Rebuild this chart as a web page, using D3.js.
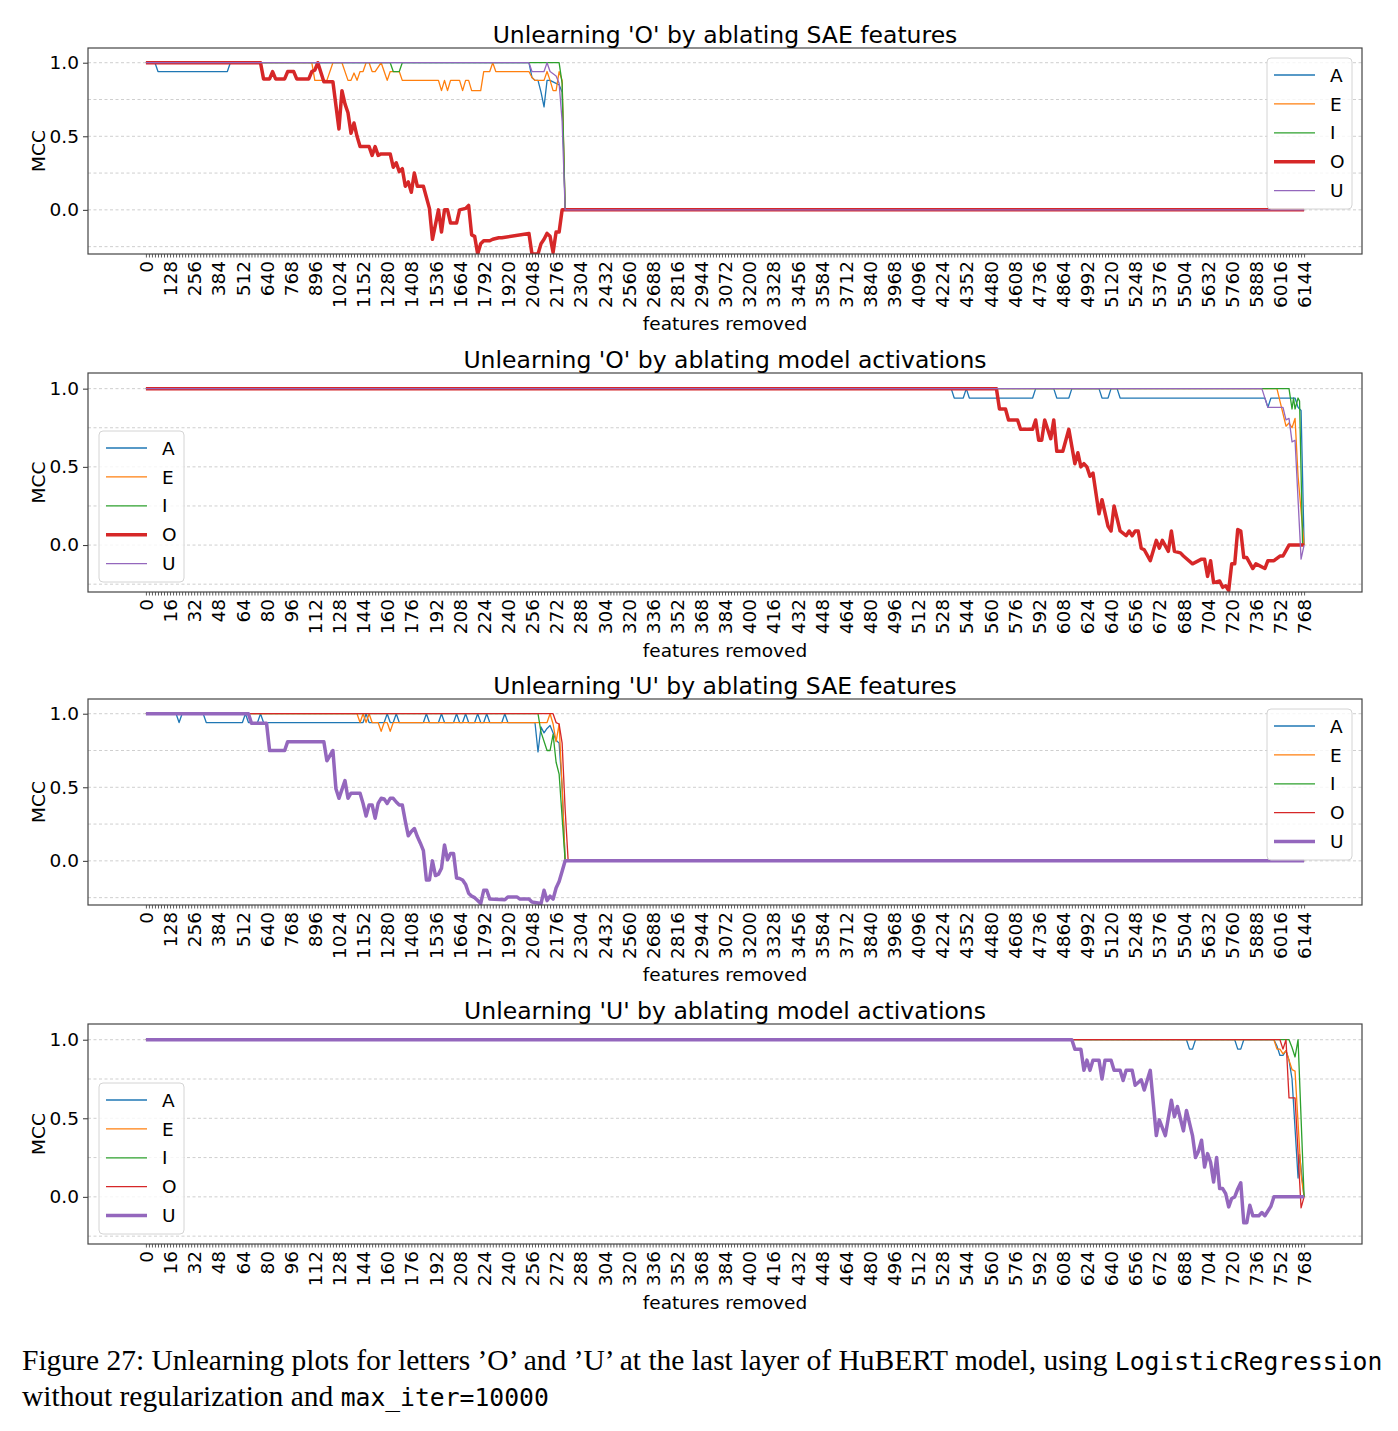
<!DOCTYPE html>
<html>
<head>
<meta charset="utf-8">
<script src="https://cdn.jsdelivr.net/npm/d3@7"></script>
<style>
  body { margin: 0; background: #fff; }
  svg text { font-family: "DejaVu Sans", sans-serif; fill: #000; }
  .caption { font-family: "Liberation Serif", "Times New Roman", serif; font-size: 29.5px; }
  .mono { font-family: "DejaVu Sans Mono", monospace; font-size: 24.7px; }
</style>
</head>
<body>
<svg id="fig" width="1398" height="1431"></svg>
<script>
var letters = ["A", "E", "I", "O", "U"];
var colors = ["#1f77b4", "#ff7f0e", "#2ca02c", "#d62728", "#9467bd"];

var saeTicks = d3.range(0, 6144 + 1, 16);     // one tick per ablation step
var saeTickLabels = d3.range(0, 6144 + 1, 128);
var actTicks = d3.range(0, 768 + 1, 2);
var actTickLabels = d3.range(0, 768 + 1, 16);
var yTickLabels = [0, 0.5, 1.0];
var yGrid = [-0.25, 0, 0.25, 0.5, 0.75, 1.0];

// [features removed, MCC]
// Unlearning 'O' by ablating SAE features
var oSaeA = [[0,1],[48,1],[64,0.94],[432,0.94],[448,1],[2032,1],[2048,0.9],[2064,0.88],[2080,0.88],[2096,0.8],[2112,0.70],[2128,0.88],[2144,0.88],[2160,0.87],[2176,0.86],[2192,0.85],[2208,0.8],[2224,0],[6144,0]];
var oSaeE = [[0,1],[880,1],[896,0.88],[960,0.88],[992,1],[1040,1],[1072,0.88],[1088,0.88],[1104,0.93],[1120,0.88],[1136,0.94],[1152,0.94],[1168,1],[1184,1],[1200,0.94],[1216,0.94],[1248,1],[1264,0.94],[1280,0.88],[1296,0.94],[1344,0.94],[1360,0.88],[1552,0.88],[1568,0.81],[1584,0.88],[1600,0.81],[1616,0.88],[1664,0.88],[1680,0.81],[1696,0.88],[1712,0.88],[1728,0.81],[1776,0.81],[1792,0.94],[1824,0.94],[1840,1],[1856,0.94],[2032,0.94],[2048,0.9],[2064,0.88],[2112,0.88],[2128,0.94],[2144,0.88],[2160,0.81],[2176,0.81],[2192,0.94],[2208,0.88],[2224,0],[6144,0]];
var oSaeI = [[0,1],[1296,1],[1312,0.94],[1344,0.94],[1360,1],[2192,1],[2208,0.86],[2224,0],[6144,0]];
var oSaeO = [[0,1],[608,1],[624,0.89],[656,0.89],[672,0.94],[688,0.89],[736,0.89],[752,0.94],[784,0.94],[800,0.89],[864,0.89],[880,0.94],[896,0.95],[912,1],[944,0.87],[992,0.87],[1024,0.55],[1040,0.81],[1056,0.72],[1072,0.66],[1088,0.52],[1104,0.59],[1120,0.5],[1136,0.43],[1184,0.43],[1200,0.37],[1216,0.43],[1232,0.37],[1248,0.38],[1296,0.38],[1312,0.29],[1328,0.32],[1344,0.26],[1360,0.28],[1376,0.16],[1392,0.19],[1408,0.12],[1424,0.25],[1440,0.16],[1472,0.16],[1504,0.01],[1520,-0.2],[1552,0],[1568,-0.15],[1584,0],[1600,0],[1616,-0.09],[1648,-0.09],[1664,0],[1696,0.01],[1712,0.03],[1728,-0.17],[1744,-0.18],[1760,-0.3],[1776,-0.23],[1792,-0.21],[1824,-0.21],[1840,-0.2],[1872,-0.19],[1888,-0.19],[2032,-0.16],[2048,-0.3],[2080,-0.3],[2096,-0.23],[2112,-0.2],[2128,-0.16],[2144,-0.18],[2160,-0.29],[2176,-0.15],[2192,-0.15],[2208,0],[6144,0]];
var oSaeU = [[0,1],[2032,1],[2048,0.94],[2112,0.94],[2128,1],[2144,0.94],[2176,0.91],[2192,0.86],[2208,0.6],[2224,0],[6144,0]];

// Unlearning 'O' by ablating model activations
var oActA = [[0,1],[534,1],[536,0.94],[542,0.94],[544,1],[546,0.94],[588,0.94],[590,1],[602,1],[604,0.94],[612,0.94],[614,1],[632,1],[634,0.94],[638,0.94],[640,1],[644,1],[646,0.94],[742,0.94],[744,0.88],[746,0.94],[762,0.94],[764,0.88],[766,0.86],[768,0]];
var oActE = [[0,1],[750,1],[756,0.76],[758,0.78],[760,0.75],[762,0.81],[764,0.44],[768,0]];
var oActI = [[0,1],[758,1],[760,0.87],[761,0.94],[762,0.87],[764,0.94],[765,0.92],[767,0],[768,0]];
var oActO = [[0,1],[564,1],[566,0.87],[570,0.87],[572,0.8],[578,0.8],[580,0.74],[588,0.74],[590,0.8],[592,0.67],[594,0.67],[596,0.8],[600,0.68],[602,0.8],[604,0.6],[608,0.6],[612,0.74],[616,0.52],[618,0.59],[620,0.5],[622,0.52],[624,0.5],[626,0.44],[628,0.46],[632,0.2],[634,0.29],[638,0.12],[640,0.09],[642,0.25],[646,0.09],[650,0.06],[652,0.09],[654,0.06],[656,0.09],[658,0.09],[660,-0.02],[662,-0.03],[666,-0.1],[670,0.03],[672,-0.02],[674,0.03],[678,-0.04],[680,0.09],[682,-0.04],[686,-0.05],[688,-0.07],[694,-0.12],[700,-0.09],[702,-0.09],[704,-0.2],[706,-0.1],[708,-0.24],[712,-0.23],[714,-0.27],[716,-0.26],[718,-0.29],[720,-0.12],[722,-0.12],[724,0.1],[726,0.09],[728,-0.08],[730,-0.08],[734,-0.15],[736,-0.12],[738,-0.13],[742,-0.15],[744,-0.1],[748,-0.1],[752,-0.07],[754,-0.07],[758,0],[768,0]];
var oActU = [[0,1],[740,1],[744,0.88],[754,0.88],[756,0.8],[758,0.81],[760,0.66],[762,0.67],[766,-0.09],[768,0]];

// Unlearning 'U' by ablating SAE features
var uSaeA = [[0,1],[160,1],[176,0.94],[192,1],[304,1],[320,0.94],[512,0.94],[528,1],[544,0.94],[592,0.94],[608,1],[624,0.94],[1152,0.94],[1168,1],[1184,0.94],[1264,0.94],[1280,1],[1296,0.94],[1312,0.94],[1328,1],[1344,0.94],[1472,0.94],[1488,1],[1504,0.94],[1552,0.94],[1568,1],[1584,0.94],[1632,0.94],[1648,1],[1664,0.94],[1680,0.94],[1696,1],[1712,0.94],[1744,0.94],[1760,1],[1776,0.94],[1792,0.94],[1808,1],[1824,0.94],[1888,0.94],[1904,1],[1920,0.94],[2064,0.94],[2080,0.74],[2096,0.91],[2112,0.87],[2128,0.9],[2144,0.92],[2176,0.82],[2192,0.8],[2208,0.5],[2224,0],[6144,0]];
var uSaeE = [[0,1],[1120,1],[1136,0.94],[1152,1],[1168,0.94],[1184,1],[1200,0.94],[1232,0.94],[1248,0.88],[1264,0.94],[1280,0.94],[1296,0.88],[1312,0.94],[2128,0.94],[2144,1],[2160,0.93],[2176,0.81],[2192,0.93],[2208,0.5],[2224,0],[6144,0]];
var uSaeI = [[0,1],[2080,1],[2096,0.875],[2128,0.75],[2144,0.75],[2160,0.86],[2176,0.67],[2192,0.59],[2224,0],[6144,0]];
var uSaeO = [[0,1],[2160,1],[2176,0.94],[2192,0.93],[2208,0.8],[2224,0.35],[2240,0],[6144,0]];
var uSaeU = [[0,1],[544,1],[560,0.935],[640,0.935],[656,0.75],[736,0.75],[752,0.81],[944,0.81],[960,0.68],[992,0.75],[1008,0.49],[1024,0.425],[1056,0.545],[1072,0.425],[1088,0.46],[1136,0.46],[1152,0.39],[1168,0.305],[1184,0.38],[1200,0.38],[1216,0.29],[1232,0.39],[1248,0.425],[1264,0.42],[1280,0.39],[1296,0.425],[1312,0.425],[1328,0.4],[1344,0.38],[1360,0.38],[1376,0.27],[1392,0.17],[1408,0.2],[1424,0.22],[1440,0.165],[1456,0.12],[1472,0.07],[1488,-0.13],[1504,-0.13],[1520,0],[1536,-0.1],[1552,-0.09],[1568,-0.05],[1584,0.108],[1600,0.007],[1616,0.05],[1632,0.05],[1648,-0.117],[1664,-0.12],[1680,-0.13],[1696,-0.16],[1712,-0.22],[1728,-0.24],[1744,-0.25],[1760,-0.27],[1776,-0.29],[1792,-0.2],[1808,-0.2],[1824,-0.26],[1904,-0.265],[1920,-0.245],[1968,-0.245],[1984,-0.26],[2032,-0.26],[2048,-0.28],[2096,-0.29],[2112,-0.2],[2128,-0.27],[2144,-0.24],[2160,-0.26],[2176,-0.185],[2192,-0.14],[2208,-0.07],[2224,0],[6144,0]];

// Unlearning 'U' by ablating model activations
var uActA = [[0,1],[690,1],[692,0.94],[694,0.94],[696,1],[722,1],[724,0.94],[726,0.94],[728,1],[748,1],[750,0.96],[752,0.9],[754,0.9],[756,0.93],[758,0.87],[760,0.75],[764,0.12],[765,0.27],[768,0]];
var uActE = [[0,1],[748,1],[750,0.94],[752,0.94],[754,0.91],[756,0.93],[758,0.87],[760,0.81],[762,0.8],[766,0.14],[768,0]];
var uActI = [[0,1],[758,1],[760,0.95],[762,0.89],[764,1],[768,0]];
var uActO = [[0,1],[752,1],[754,0.94],[756,1],[758,0.63],[762,0.63],[766,-0.07],[768,0]];
var uActU = [[0,1],[614,1],[616,0.94],[620,0.94],[622,0.805],[624,0.87],[626,0.805],[628,0.87],[632,0.87],[634,0.75],[636,0.87],[640,0.87],[642,0.805],[646,0.805],[648,0.74],[650,0.805],[654,0.805],[656,0.71],[660,0.745],[662,0.68],[666,0.805],[670,0.39],[672,0.49],[676,0.39],[680,0.615],[682,0.51],[684,0.575],[688,0.42],[690,0.55],[694,0.39],[696,0.25],[698,0.29],[700,0.36],[702,0.19],[704,0.275],[706,0.22],[708,0.095],[710,0.25],[712,0.053],[714,0.053],[716,0.02],[718,-0.064],[720,-0.01],[722,0],[724,0.05],[726,0.09],[728,-0.165],[730,-0.165],[732,-0.053],[734,-0.12],[738,-0.12],[740,-0.1],[742,-0.12],[744,-0.09],[746,-0.06],[748,0],[768,0]];

var axLeft = 88, axRight = 1362;

var panels = [
  { title: "Unlearning 'O' by ablating SAE features", target: "O", top: 48, bottom: 254, xMax: 6144,
    ticks: saeTicks, labels: saeTickLabels, legend: "right", series: [oSaeA, oSaeE, oSaeI, oSaeO, oSaeU] },
  { title: "Unlearning 'O' by ablating model activations", target: "O", top: 373, bottom: 592, xMax: 768,
    ticks: actTicks, labels: actTickLabels, legend: "left", series: [oActA, oActE, oActI, oActO, oActU] },
  { title: "Unlearning 'U' by ablating SAE features", target: "U", top: 699, bottom: 905, xMax: 6144,
    ticks: saeTicks, labels: saeTickLabels, legend: "right", series: [uSaeA, uSaeE, uSaeI, uSaeO, uSaeU] },
  { title: "Unlearning 'U' by ablating model activations", target: "U", top: 1024, bottom: 1244, xMax: 768,
    ticks: actTicks, labels: actTickLabels, legend: "left", series: [uActA, uActE, uActI, uActO, uActU] }
];

var fig = d3.select("#fig");
var defs = fig.append("defs");

panels.forEach(drawPanel);
drawCaption();

function drawPanel(p, i) {
  var x = d3.scaleLinear().domain([-0.05 * p.xMax, 1.05 * p.xMax]).range([axLeft, axRight]);
  var y = d3.scaleLinear().domain([-0.3, 1.1]).range([p.bottom, p.top]);
  var g = fig.append("g");

  defs.append("clipPath").attr("id", "clip" + i)
    .append("rect")
      .attr("x", axLeft).attr("y", p.top)
      .attr("width", axRight - axLeft).attr("height", p.bottom - p.top);

  // dashed horizontal grid
  g.append("g").selectAll("line")
    .data(yGrid)
    .join("line")
      .attr("x1", axLeft).attr("x2", axRight)
      .attr("y1", function(d) { return y(d); }).attr("y2", function(d) { return y(d); })
      .attr("stroke", "#cfcfcf").attr("stroke-width", 1).attr("stroke-dasharray", "3,2.5");

  var line = d3.line().x(function(d) { return x(d[0]); }).y(function(d) { return y(d[1]); });
  g.append("g").attr("clip-path", "url(#clip" + i + ")")
    .selectAll("path")
    .data(p.series)
    .join("path")
      .attr("d", line)
      .attr("fill", "none")
      .attr("stroke", function(d, j) { return colors[j]; })
      .attr("stroke-width", function(d, j) { return letters[j] === p.target ? 3.5 : 1.3; })
      .attr("stroke-linejoin", "round");

  // x axis: a tick per step, a label every 8th
  var xAxis = g.append("g")
    .attr("transform", "translate(0," + p.bottom + ")")
    .call(d3.axisBottom(x).tickValues(p.ticks).tickSize(3.5)
      .tickFormat(function(d) { return p.labels.indexOf(d) >= 0 ? d : ""; }));
  xAxis.select(".domain").remove();
  xAxis.selectAll("line").attr("stroke", "#333").attr("stroke-width", 0.8);
  xAxis.selectAll("text")
    .attr("font-size", "18.5px").attr("font-family", "DejaVu Sans")
    .attr("transform", "rotate(-90)")
    .attr("text-anchor", "end")
    .attr("x", -7).attr("y", 0).attr("dy", "0.36em");

  var yAxis = g.append("g")
    .attr("transform", "translate(" + axLeft + ",0)")
    .call(d3.axisLeft(y).tickValues(yTickLabels).tickSize(5).tickPadding(4).tickFormat(d3.format(".1f")));
  yAxis.select(".domain").remove();
  yAxis.selectAll("line").attr("stroke", "#333").attr("stroke-width", 1);
  yAxis.selectAll("text").attr("font-size", "18.5px").attr("font-family", "DejaVu Sans");

  g.append("rect")
    .attr("x", axLeft).attr("y", p.top)
    .attr("width", axRight - axLeft).attr("height", p.bottom - p.top)
    .attr("fill", "none").attr("stroke", "#444").attr("stroke-width", 1.2);

  g.append("text")
    .attr("x", (axLeft + axRight) / 2).attr("y", p.top - 5)
    .attr("text-anchor", "middle").attr("font-size", "23.5px")
    .text(p.title);

  g.append("text")
    .attr("x", (axLeft + axRight) / 2)
    .attr("y", p.bottom + (p.xMax > 1000 ? 76 : 65))
    .attr("text-anchor", "middle").attr("font-size", "18.5px")
    .text("features removed");

  g.append("text")
    .attr("transform", "translate(45," + (p.top + p.bottom) / 2 + ")rotate(-90)")
    .attr("text-anchor", "middle").attr("font-size", "18.5px")
    .text("MCC");

  addLegend(g, p);
}

function addLegend(g, p) {
  var w = 85, h = 151;
  var lx = p.legend === "right" ? axRight - 10 - w : axLeft + 11;
  var ly = p.legend === "right" ? p.top + 10 : p.bottom - 10 - h;
  var leg = g.append("g").attr("transform", "translate(" + lx + "," + ly + ")");
  leg.append("rect")
    .attr("width", w).attr("height", h).attr("rx", 4)
    .attr("fill", "#fff").attr("fill-opacity", 0.8)
    .attr("stroke", "#d4d4d4").attr("stroke-width", 1);
  var row = leg.selectAll("g.row")
    .data(letters)
    .join("g")
      .attr("class", "row")
      .attr("transform", function(d, j) { return "translate(0," + (17 + j * 28.9) + ")"; });
  row.append("line")
    .attr("x1", 7).attr("x2", 48)
    .attr("stroke", function(d, j) { return colors[j]; })
    .attr("stroke-width", function(d) { return d === p.target ? 3.5 : 1.3; });
  row.append("text")
    .attr("x", 63).attr("dy", "0.36em").attr("font-size", "18.5px")
    .text(function(d) { return d; });
}

function drawCaption() {
  var l1 = fig.append("text").attr("class", "caption").attr("x", 22).attr("y", 1370);
  l1.append("tspan").text("Figure 27: Unlearning plots for letters \u2019O\u2019 and \u2019U\u2019 at the last layer of HuBERT model, using ");
  l1.append("tspan").attr("class", "mono").text("LogisticRegression");
  var l2 = fig.append("text").attr("class", "caption").attr("x", 22).attr("y", 1406);
  l2.append("tspan").text("without regularization and ");
  l2.append("tspan").attr("class", "mono").text("max_iter=10000");
}
</script>
</body>
</html>
